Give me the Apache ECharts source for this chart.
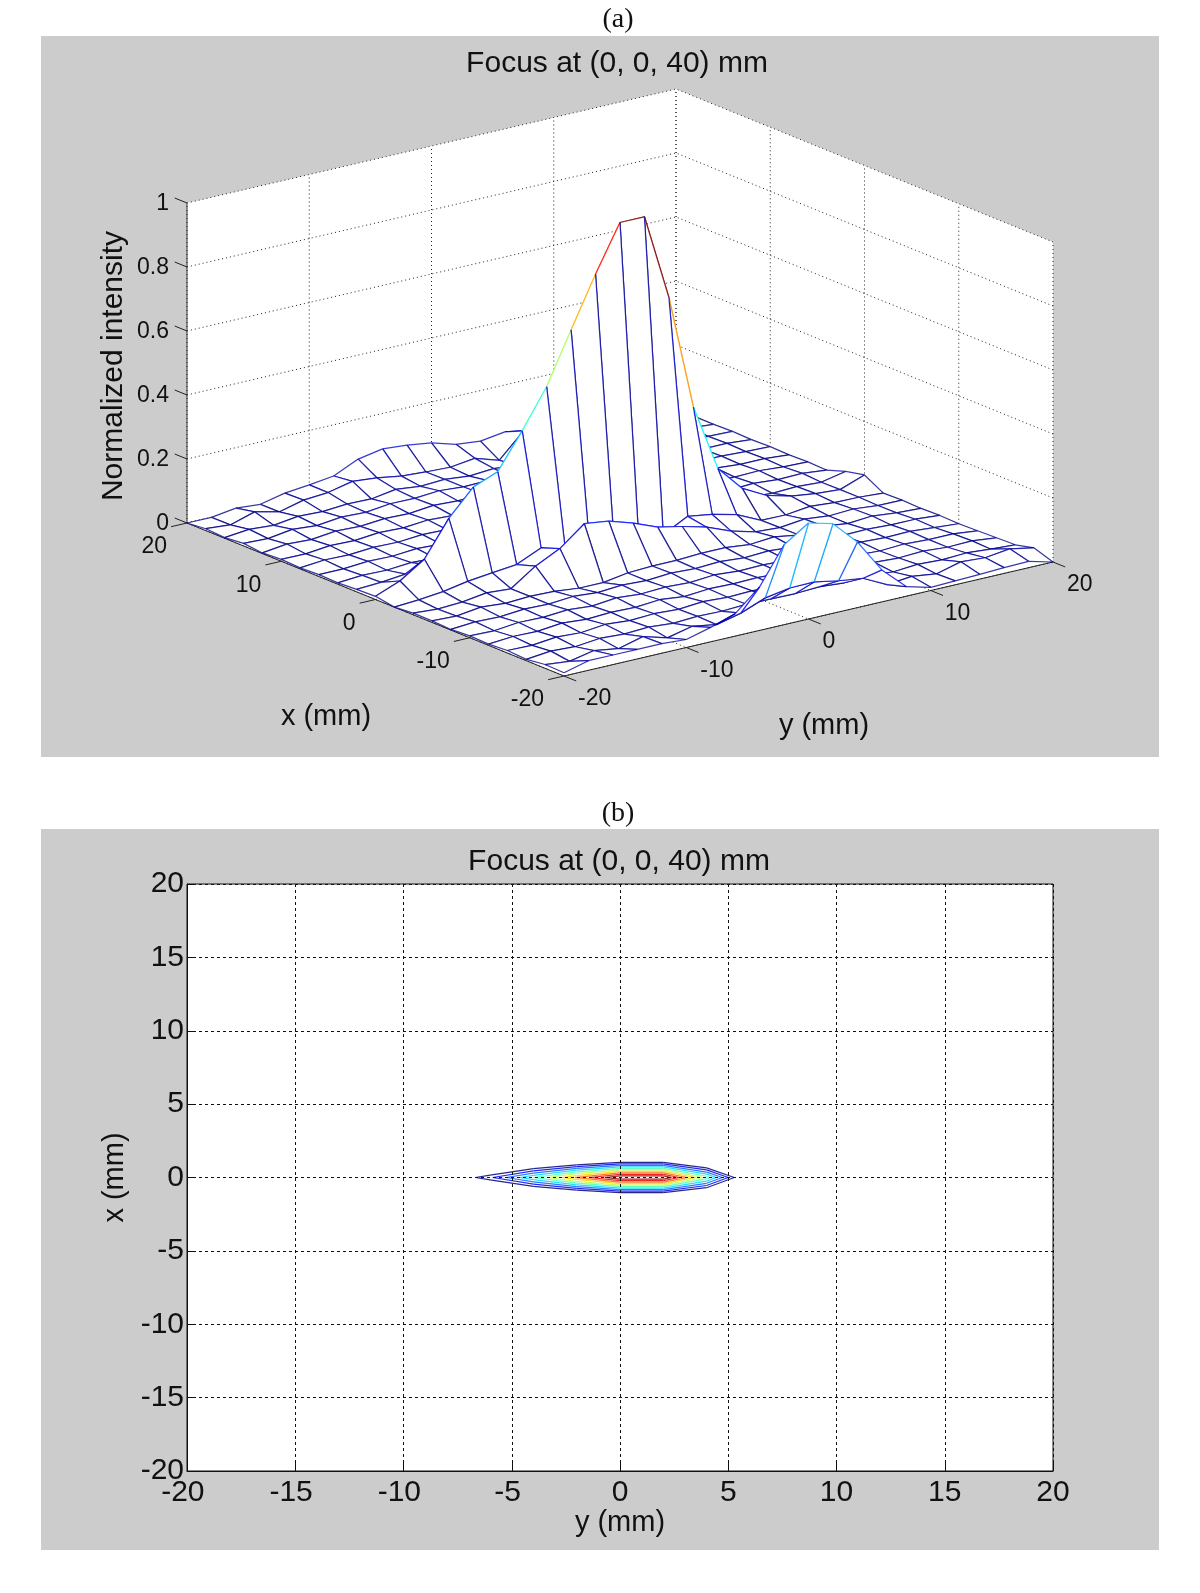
<!DOCTYPE html>
<html>
<head>
<meta charset="utf-8">
<style>html,body{margin:0;padding:0;background:#fff}#c{width:1200px;height:1593px}</style>
<script src="https://cdn.jsdelivr.net/npm/echarts@6/dist/echarts.min.js"></script>
</head>
<body>
<div id="c"></div>
<script>
// grid coordinates (mm)
const xValues = [-20,-18,-16,-14,-12,-10,-8,-6,-4,-2,0,2,4,6,8,10,12,14,16,18,20];
const yValues = [-20,-18,-16,-14,-12,-10,-8,-6,-4,-2,0,2,4,6,8,10,12,14,16,18,20];
// normalized intensity, one row for each x; columns follow yValues
const zXm20 = [.010,.030,.030,.030,.030,.025,.045,.070,.136,.250,.300,.280,.205,.100,.030,.010,.012,.015,.018,.020,.000];
const zXm18 = [.012,.004,.020,.008,.028,.006,.024,.012,.030,.060,.073,.074,.060,.050,.012,.020,.010,.030,.025,.035,.020];
const zXm16 = [.004,.012,.008,.016,.012,.016,.010,.014,.012,.016,.015,.014,.018,.012,.018,.010,.016,.012,.016,.010,.006];
const zXm14 = [.008,.006,.014,.010,.018,.012,.016,.012,.018,.014,.016,.012,.016,.014,.010,.016,.012,.016,.010,.012,.004];
const zXm12 = [.004,.010,.008,.016,.010,.014,.012,.018,.010,.016,.014,.016,.012,.016,.012,.014,.010,.014,.010,.010,.002];
const zXm10 = [.006,.004,.012,.010,.016,.010,.018,.012,.016,.012,.018,.012,.014,.010,.016,.010,.014,.010,.012,.006,.000];
const zXm8  = [.002,.008,.006,.012,.010,.016,.010,.016,.012,.018,.014,.018,.012,.016,.010,.014,.010,.012,.008,.008,.002];
const zXm6  = [.005,.002,.012,.006,.010,.008,.000,.000,.012,.016,.016,.020,.020,.012,.018,.006,.016,.006,.012,.004,.000];
const zXm4  = [.005,.000,.004,.015,.010,.063,.100,.160,.150,.126,.096,.080,.060,.030,.010,.005,.014,.006,.010,.003,.002];
const zXm2  = [.000,.005,.013,.027,.036,.044,.078,.050,.040,.030,.030,.030,.070,.058,.040,.004,.003,.012,.006,.005,.000];
const zX0   = [.010,.040,.090,.200,.280,.310,.420,.540,.700,.856,1.00,1.00,.730,.370,.160,.080,.040,.020,.010,.005,.033];
const zX2   = [.008,.012,.020,.030,.040,.050,.060,.040,.030,.030,.030,.030,.030,.020,.014,.006,.010,.005,.008,.004,.020];
const zX4   = [.004,.010,.008,.014,.010,.014,.012,.018,.014,.016,.012,.012,.014,.010,.012,.016,.008,.012,.006,.008,.000];
const zX6   = [.006,.006,.012,.010,.016,.012,.020,.014,.020,.014,.018,.012,.018,.014,.016,.010,.012,.008,.010,.004,.002];
const zX8   = [.003,.010,.008,.014,.012,.018,.016,.022,.018,.022,.016,.020,.014,.018,.012,.014,.010,.012,.006,.006,.000];
const zX10  = [.006,.005,.013,.011,.018,.015,.022,.018,.024,.020,.022,.018,.020,.014,.016,.010,.012,.008,.008,.004,.002];
const zX12  = [.002,.012,.008,.017,.014,.020,.018,.026,.022,.026,.020,.024,.016,.020,.012,.014,.010,.010,.006,.006,.000];
const zX14  = [.008,.005,.016,.010,.019,.016,.025,.024,.030,.024,.026,.020,.020,.016,.016,.010,.010,.006,.008,.004,.002];
const zX16  = [.002,.010,.005,.015,.012,.018,.016,.028,.020,.024,.016,.022,.014,.018,.012,.012,.006,.010,.004,.006,.000];
const zX18  = [.006,.000,.023,.005,.024,.030,.047,.040,.028,.023,.020,.030,.006,.080,.020,.012,.006,.010,.004,.006,.000];
const zX20  = [.000,.000,.011,.005,.022,.030,.040,.075,.089,.083,.072,.050,.042,.053,.040,.020,.010,.005,.003,.002,.000];
const zRows = [zXm20,zXm18,zXm16,zXm14,zXm12,zXm10,zXm8,zXm6,zXm4,zXm2,zX0,zX2,zX4,zX6,zX8,zX10,zX12,zX14,zX16,zX18,zX20];

const xTicks3d = [20,10,0,-10,-20];
const yTicks3d = [-20,-10,0,10,20];
const zTicks3d = [0,0.2,0.4,0.6,0.8,1];
const wallTicks3d = [-20,-10,0,10,20];
const contourLevels = [.5,.55,.6,.65,.7,.75,.8,.85,.9,.95];

// parallel view of the box: plane coordinates per mm / per unit of z
const view = {ux:-9.425, uy:12.225, vx:3.825, vy:2.85, vz:320};
function project(x,y,z){
  const a=x+20,b=y+20;
  return [view.ux*a+view.uy*b, view.vx*a+view.vy*b+view.vz*z];
}
function clip01(v){return Math.max(0,Math.min(1,v));}
function jet(t){
  t=clip01(t);
  const r=clip01(Math.min(4*t-1.5,-4*t+4.5));
  const g=clip01(Math.min(4*t-.5,-4*t+3.5));
  const b=clip01(Math.min(4*t+.5,-4*t+2.5));
  return 'rgb('+Math.round(r*255)+','+Math.round(g*255)+','+Math.round(b*255)+')';
}

// mesh cells, from the back corner to the front corner
const cells=[];
for(let i=xValues.length-2;i>=0;i--)for(let j=yValues.length-2;j>=0;j--)cells.push([i,j]);

// contour segments (marching squares on the same matrix)
const segments=[];
function cross(L,x1,y1,z1,x2,y2,z2,out){
  if((z1<L)!==(z2<L)){const t=(L-z1)/(z2-z1);out.push([x1+t*(x2-x1),y1+t*(y2-y1)]);}
}
contourLevels.forEach(L=>{
  for(let i=0;i<xValues.length-1;i++)for(let j=0;j<yValues.length-1;j++){
    const x0=xValues[i],x1=xValues[i+1],y0=yValues[j],y1=yValues[j+1];
    const a=zRows[i][j],b=zRows[i][j+1],c=zRows[i+1][j+1],d=zRows[i+1][j];
    const p=[];
    cross(L,x0,y0,a,x0,y1,b,p);cross(L,x0,y1,b,x1,y1,c,p);
    cross(L,x1,y1,c,x1,y0,d,p);cross(L,x1,y0,d,x0,y0,a,p);
    if(p.length>=2)segments.push([p[0][1],p[0][0],p[1][1],p[1][0],L]);
    if(p.length===4)segments.push([p[2][1],p[2][0],p[3][1],p[3][0],L]);
  }
});

const SANS='"Liberation Sans",Arial,sans-serif';
const SERIF='"Liberation Serif","Times New Roman",serif';
const INK='#111111';
const gridDot=[1,3];
const negLabel=v=>v<0?(v+'\u00a0'):String(v);

function line(api,pts,stroke,dash,w){
  return {type:'polyline',silent:true,shape:{points:pts.map(p=>api.coord(project(p[0],p[1],p[2])))},
    style:{stroke:stroke,fill:null,lineWidth:w||1,lineDash:dash||null}};
}
function renderFrame(params,api){
  const kids=[];
  const P=(x,y,z)=>api.coord(project(x,y,z));
  [[[20,-20,0],[20,20,0],[20,20,1],[20,-20,1]],
   [[20,20,0],[-20,20,0],[-20,20,1],[20,20,1]],
   [[20,-20,0],[20,20,0],[-20,20,0],[-20,-20,0]]].forEach(q=>{
    kids.push({type:'polygon',silent:true,shape:{points:q.map(p=>P(p[0],p[1],p[2]))},style:{fill:'#fff',stroke:null}});
  });
  wallTicks3d.forEach(t=>{
    kids.push(line(api,[[20,t,0],[20,t,1]],'#222',gridDot));
    kids.push(line(api,[[t,20,0],[t,20,1]],'#222',gridDot));
    kids.push(line(api,[[20,t,0],[-20,t,0]],'#222',gridDot));
    kids.push(line(api,[[t,-20,0],[t,20,0]],'#222',gridDot));
  });
  zTicks3d.forEach(z=>{
    kids.push(line(api,[[20,-20,z],[20,20,z],[-20,20,z]],'#222',gridDot));
  });
  kids.push(line(api,[[20,-20,0],[20,-20,1]],'#333'));
  kids.push(line(api,[[20,-20,0],[-20,-20,0],[-20,20,0]],'#222'));
  xTicks3d.forEach(x=>{
    kids.push(line(api,[[x,-20,0],[x,-21.3,0]],'#222'));
    const p=P(x,-20,0);
    kids.push({type:'text',silent:true,style:{text:String(x),x:p[0]-20,y:p[1]+24,align:'right',verticalAlign:'middle',fontFamily:SANS,fontSize:23,fill:INK}});
  });
  yTicks3d.forEach(y=>{
    kids.push(line(api,[[-20,y,0],[-21.3,y,0]],'#222'));
    const p=P(-20,y,0);
    kids.push({type:'text',silent:true,style:{text:String(y),x:p[0]+14,y:p[1]+23,align:'left',verticalAlign:'middle',fontFamily:SANS,fontSize:23,fill:INK}});
  });
  zTicks3d.forEach(z=>{
    kids.push(line(api,[[20,-20,z],[21.3,-20,z]],'#222'));
    const p=P(20,-20,z);
    kids.push({type:'text',silent:true,style:{text:String(z),x:p[0]-18,y:p[1]+1,align:'right',verticalAlign:'middle',fontFamily:SANS,fontSize:23,fill:INK}});
  });
  return {type:'group',children:kids};
}
function renderCell(params,api){
  const i=api.value(0),j=api.value(1);
  const nodes=[[i,j],[i,j+1],[i+1,j+1],[i+1,j]];
  const pts=nodes.map(n=>api.coord(project(xValues[n[0]],yValues[n[1]],zRows[n[0]][n[1]])));
  const edge=(k,m,t)=>({type:'line',silent:true,
    shape:{x1:pts[k][0],y1:pts[k][1],x2:pts[m][0],y2:pts[m][1]},
    style:{stroke:jet(t),lineWidth:1.25,opacity:.78}});
  return {type:'group',children:[
    {type:'polygon',silent:true,shape:{points:pts},style:{fill:'#fff',stroke:null}},
    edge(0,1,zRows[i][j]),edge(0,3,zRows[i][j]),
    edge(3,2,zRows[i+1][j]),edge(1,2,zRows[i][j+1])
  ]};
}
function renderContour(params,api){
  const a=api.coord([api.value(0),api.value(1)]),b=api.coord([api.value(2),api.value(3)]);
  const t=(api.value(4)-contourLevels[0])/(contourLevels[contourLevels.length-1]-contourLevels[0]);
  return {type:'line',silent:true,shape:{x1:a[0],y1:a[1],x2:b[0],y2:b[1]},style:{stroke:jet(t),lineWidth:1.25,opacity:.85}};
}

const pageText=(text,x,y,size,family,rot)=>({type:'text',x:x,y:y,rotation:rot||0,z:10,silent:true,
  style:{text:text,align:'center',verticalAlign:'middle',fontFamily:family,fontSize:size,fill:INK}});

const chart=echarts.init(document.getElementById('c'),null,{renderer:'canvas'});
chart.setOption({
  animation:false,
  backgroundColor:'#fff',
  graphic:[
    {type:'rect',z:-10,silent:true,shape:{x:41,y:36,width:1118,height:721},style:{fill:'#cccccc'}},
    {type:'rect',z:-10,silent:true,shape:{x:41,y:829,width:1118,height:721},style:{fill:'#cccccc'}},
    pageText('(a)',618,20,28,SERIF),
    pageText('(b)',618,814,28,SERIF),
    pageText('Focus at (0, 0, 40) mm',617,64,30,SANS),
    pageText('Focus at (0, 0, 40) mm',619,862,30,SANS),
    pageText('x (mm)',326,717,29,SANS),
    pageText('y (mm)',824,726,29,SANS),
    pageText('Normalized intensity',114,366,30,SANS,Math.PI/2)
  ],
  grid:[
    {left:187,top:88,width:866,height:588,show:false},
    {left:187,top:884,width:866,height:587,show:true,backgroundColor:'#fff',borderColor:'#111',borderWidth:1}
  ],
  xAxis:[
    {gridIndex:0,type:'value',min:-377,max:489,show:false},
    {gridIndex:1,type:'value',min:-20,max:20,interval:5,z:5,name:'y (mm)',nameLocation:'middle',nameGap:37,
     nameTextStyle:{fontFamily:SANS,fontSize:29,color:INK},
     axisLine:{onZero:false,lineStyle:{color:'#111'}},
     axisTick:{inside:true,length:8,lineStyle:{color:'#111'}},
     axisLabel:{fontFamily:SANS,fontSize:30,color:INK,margin:7,showMinLabel:true,showMaxLabel:true,formatter:negLabel},
     splitLine:{show:true,lineStyle:{color:'#111',type:[3,3],width:1}}}
  ],
  yAxis:[
    {gridIndex:0,type:'value',min:0,max:588,show:false},
    {gridIndex:1,type:'value',min:-20,max:20,interval:5,z:5,name:'x (mm)',nameLocation:'middle',nameGap:53,
     nameRotate:90,
     nameTextStyle:{fontFamily:SANS,fontSize:29,color:INK},
     axisLine:{onZero:false,lineStyle:{color:'#111'}},
     axisTick:{inside:true,length:8,lineStyle:{color:'#111'}},
     axisLabel:{fontFamily:SANS,fontSize:30,color:INK,margin:3,padding:[7,0,0,0],showMinLabel:true,showMaxLabel:true},
     splitLine:{show:true,lineStyle:{color:'#111',type:[3,3],width:1}}}
  ],
  series:[
    {type:'custom',name:'frame',xAxisIndex:0,yAxisIndex:0,z:1,clip:false,data:[[0,0]],renderItem:renderFrame,silent:true},
    {type:'custom',name:'mesh',xAxisIndex:0,yAxisIndex:0,z:2,clip:false,progressive:0,data:cells,renderItem:renderCell,silent:true},
    {type:'custom',name:'contour',xAxisIndex:1,yAxisIndex:1,z:2,clip:false,progressive:0,data:segments,renderItem:renderContour,silent:true}
  ]
});
</script>
</body>
</html>
